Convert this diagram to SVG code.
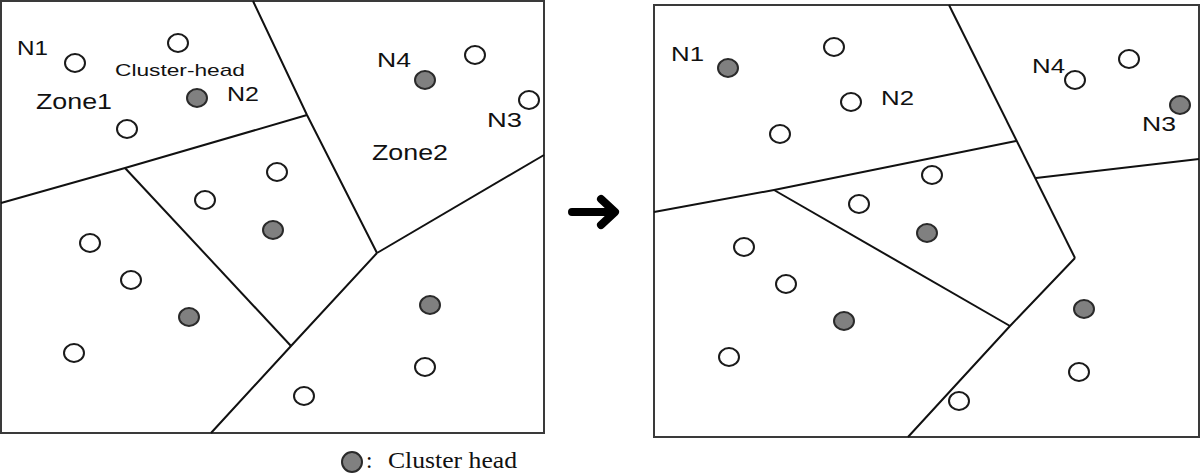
<svg xmlns="http://www.w3.org/2000/svg" width="1200" height="474" viewBox="0 0 1200 474">
<style>
.bg{fill:#ffffff}
.frame{fill:none;stroke:#3a3a3a;stroke-width:2}
.edge{fill:none;stroke:#111111;stroke-width:2;stroke-linejoin:round}
.n{fill:#ffffff;stroke:#1a1a1a;stroke-width:2}
.h{fill:#808080;stroke:#2a2a2a;stroke-width:2}
.lb{font-family:"Liberation Sans",Arial,sans-serif;font-size:21px;fill:#111111}
.zl{font-family:"Liberation Sans",Arial,sans-serif;font-size:22px;fill:#111111}
.ch{font-family:"Liberation Sans",Arial,sans-serif;font-size:17px;fill:#111111}
.lg{font-family:"Liberation Serif","Times New Roman",serif;font-size:23px;fill:#111111}
.arrow{fill:none;stroke:#000000;stroke-width:8;stroke-linecap:round;stroke-linejoin:round}
</style>
<rect class="bg" x="0" y="0" width="1200" height="474"/>

<g id="panel-before">
  <rect class="frame" x="1" y="1" width="543" height="432"/>
  <g id="connectors-before">
    <polyline class="edge" points="253,1 307,115 377,253"/>
    <polyline class="edge" points="1,203 125,168 307,115"/>
    <polyline class="edge" points="125,168 291,346"/>
    <polyline class="edge" points="377,253 544,155"/>
    <polyline class="edge" points="377,253 291,346 211,433"/>
  </g>
  <g id="L-N1"><ellipse class="n" cx="75" cy="63" rx="10" ry="9"/><text class="lb" x="17" y="55" textLength="31" lengthAdjust="spacingAndGlyphs">N1</text></g>
  <g id="L-a"><ellipse class="n" cx="178" cy="43" rx="10" ry="9"/></g>
  <g id="L-label-ch"><text class="ch" x="115" y="76" textLength="130" lengthAdjust="spacingAndGlyphs">Cluster-head</text></g>
  <g id="L-N2"><ellipse class="h" cx="197" cy="98" rx="10" ry="9"/><text class="lb" x="227" y="101" textLength="32" lengthAdjust="spacingAndGlyphs">N2</text></g>
  <g id="L-zone1"><text class="zl" x="36" y="109" textLength="76" lengthAdjust="spacingAndGlyphs">Zone1</text></g>
  <g id="L-b"><ellipse class="n" cx="127" cy="129" rx="10" ry="9"/></g>
  <g id="L-N4"><ellipse class="h" cx="425" cy="80" rx="10" ry="9"/><text class="lb" x="377" y="67" textLength="34" lengthAdjust="spacingAndGlyphs">N4</text></g>
  <g id="L-c"><ellipse class="n" cx="475" cy="55" rx="10" ry="9"/></g>
  <g id="L-N3"><ellipse class="n" cx="529" cy="100" rx="10" ry="9"/><text class="lb" x="487" y="127" textLength="35" lengthAdjust="spacingAndGlyphs">N3</text></g>
  <g id="L-zone2"><text class="zl" x="372" y="160" textLength="76" lengthAdjust="spacingAndGlyphs">Zone2</text></g>
  <g id="L-d"><ellipse class="n" cx="277" cy="172" rx="10" ry="9"/></g>
  <g id="L-e"><ellipse class="n" cx="205" cy="200" rx="10" ry="9"/></g>
  <g id="L-f"><ellipse class="h" cx="273" cy="230" rx="10" ry="9"/></g>
  <g id="L-g"><ellipse class="n" cx="90" cy="243" rx="10" ry="9"/></g>
  <g id="L-h"><ellipse class="n" cx="131" cy="280" rx="10" ry="9"/></g>
  <g id="L-i"><ellipse class="h" cx="189" cy="317" rx="10" ry="9"/></g>
  <g id="L-j"><ellipse class="n" cx="74" cy="353" rx="10" ry="9"/></g>
  <g id="L-k"><ellipse class="h" cx="430" cy="305" rx="10" ry="9"/></g>
  <g id="L-l"><ellipse class="n" cx="425" cy="367" rx="10" ry="9"/></g>
  <g id="L-m"><ellipse class="n" cx="304" cy="396" rx="10" ry="9"/></g>
</g>

<g id="arrow">
  <path class="arrow" d="M572,212 H613 M601,199 L615,212 L601,225"/>
</g>

<g id="panel-after">
  <rect class="frame" x="654" y="5" width="545" height="432"/>
  <g id="connectors-after">
    <polyline class="edge" points="949,5 1075,258"/>
    <polyline class="edge" points="1075,258 1010,326 908,437"/>
    <polyline class="edge" points="654,212 774,190 1016,141"/>
    <polyline class="edge" points="774,190 1010,326"/>
    <polyline class="edge" points="1036,178 1199,159"/>
  </g>
  <g id="R-N1"><ellipse class="h" cx="728" cy="68" rx="10" ry="9"/><text class="lb" x="671" y="61" textLength="33" lengthAdjust="spacingAndGlyphs">N1</text></g>
  <g id="R-a"><ellipse class="n" cx="834" cy="47" rx="10" ry="9"/></g>
  <g id="R-N2"><ellipse class="n" cx="851" cy="102" rx="10" ry="9"/><text class="lb" x="881" y="105" textLength="33" lengthAdjust="spacingAndGlyphs">N2</text></g>
  <g id="R-b"><ellipse class="n" cx="780" cy="134" rx="10" ry="9"/></g>
  <g id="R-N4"><ellipse class="n" cx="1075" cy="80" rx="10" ry="9"/><text class="lb" x="1032" y="73" textLength="33" lengthAdjust="spacingAndGlyphs">N4</text></g>
  <g id="R-c"><ellipse class="n" cx="1129" cy="59" rx="10" ry="9"/></g>
  <g id="R-N3"><ellipse class="h" cx="1180" cy="105" rx="10" ry="9"/><text class="lb" x="1142" y="131" textLength="34" lengthAdjust="spacingAndGlyphs">N3</text></g>
  <g id="R-d"><ellipse class="n" cx="932" cy="175" rx="10" ry="9"/></g>
  <g id="R-e"><ellipse class="n" cx="859" cy="204" rx="10" ry="9"/></g>
  <g id="R-f"><ellipse class="h" cx="927" cy="233" rx="10" ry="9"/></g>
  <g id="R-g"><ellipse class="n" cx="744" cy="247" rx="10" ry="9"/></g>
  <g id="R-h"><ellipse class="n" cx="786" cy="284" rx="10" ry="9"/></g>
  <g id="R-i"><ellipse class="h" cx="844" cy="321" rx="10" ry="9"/></g>
  <g id="R-j"><ellipse class="n" cx="729" cy="357" rx="10" ry="9"/></g>
  <g id="R-k"><ellipse class="h" cx="1084" cy="309" rx="10" ry="9"/></g>
  <g id="R-l"><ellipse class="n" cx="1079" cy="372" rx="10" ry="9"/></g>
  <g id="R-m"><ellipse class="n" cx="959" cy="401" rx="10" ry="9"/></g>
</g>

<g id="legend">
  <circle class="h" cx="352" cy="462" r="10"/>
  <text class="lg" x="366" y="468">:</text>
  <text class="lg" x="388" y="468" textLength="129" lengthAdjust="spacingAndGlyphs">Cluster head</text>
</g>
</svg>
